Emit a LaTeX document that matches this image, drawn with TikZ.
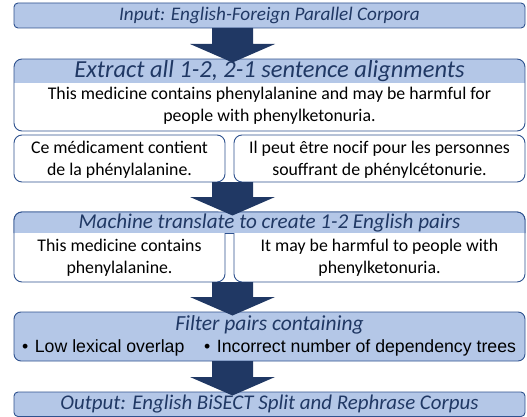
\documentclass[tikz,border=0pt]{standalone}
\usepackage{fontspec}
\setmainfont{Carlito}
\newfontfamily\arialfont{Liberation Sans}
\usetikzlibrary{calc}
\definecolor{headfill}{HTML}{B4C7E7}
\definecolor{bordercol}{HTML}{2F528F}
\definecolor{arrowcol}{HTML}{203864}
\definecolor{titlecol}{HTML}{203864}
\newcommand\blockarrow[2]{%
  \fill[arrowcol] let \p1=(#1.south -| ax), \p2=(#2.north -| ax) in
    (\x1-20.5pt,\y1) -- (\x1+20.5pt,\y1) -- (\x1+20.5pt,\y2+15pt) -- (\x1+42.5pt,\y2+15pt)
    -- (\x1,\y2-3.5pt) -- (\x1-42.5pt,\y2+15pt) -- (\x1-20.5pt,\y2+15pt) -- cycle;}
\begin{document}
\begin{tikzpicture}[x=1pt,y=1pt,
  outline/.style={draw=bordercol, line width=0.9pt},
  boxnode/.style={inner sep=0pt, outer sep=0pt, anchor=north west},
  titletext/.style={font=\fontsize{#1}{22}\selectfont\itshape, text=titlecol, inner sep=0pt},
  titletext/.default=20,
  bodytext/.style={font=\fontsize{17.8}{22}\selectfont, align=center, text=black, inner sep=0pt},
  bullettext/.style={font=\arialfont\fontsize{17.7}{20}\selectfont, text=black, inner sep=0pt}]
\useasboundingbox (0,0) rectangle (527,-417);
\coordinate (ax) at (232.5,0);

% Input
\node[boxnode, outline, fill=headfill, rounded corners=4pt, minimum width=511pt, minimum height=25pt] (in) at (14,-3) {};
\node[titletext=19.2] (intext) at (in.center) {Input: English-Foreign Parallel Corpora};

% Extract
\node[boxnode, fill=white, minimum width=511pt, minimum height=72pt] (ex) at (14,-59) {};
\begin{scope}
  \clip[rounded corners=8pt] (ex.south west) rectangle (ex.north east);
  \fill[headfill] (ex.north west) rectangle ($(ex.north east)+(0,-24)$);
\end{scope}
\draw[outline, rounded corners=8pt] (ex.south west) rectangle (ex.north east);
\node[titletext=24.5] (extitle) at ($(ex.north)+(0,-12.5)$) {Extract all 1-2, 2-1 sentence alignments};
\node[bodytext] (exbody) at ($(ex.north)+(0,-47)$) {This medicine contains phenylalanine and may be harmful for\\people with phenylketonuria.};

% French sentences
\node[boxnode, outline, fill=white, rounded corners=8pt, minimum width=211pt, minimum height=47pt] (frl) at (14,-135) {};
\node[boxnode, outline, fill=white, rounded corners=8pt, minimum width=291pt, minimum height=47pt] (frr) at (234,-135) {};
\node[bodytext] (frltext) at ($(frl.center)+(0,-1)$) {Ce médicament contient\\de la phénylalanine.};
\node[bodytext] (frrtext) at ($(frr.center)+(0,-1)$) {Il peut être nocif pour les personnes\\souffrant de phénylcétonurie.};

% Machine translation
\node[boxnode, outline, fill=white, rounded corners=8pt, minimum width=211pt, minimum height=70pt] (mtl) at (14,-212) {};
\node[boxnode, outline, fill=white, rounded corners=8pt, minimum width=291pt, minimum height=70pt] (mtr) at (234,-212) {};
\coordinate (mthb) at (0,-233);
\begin{scope}
  \clip[rounded corners=8pt] (mtl.south west) rectangle (mtr.north east);
  \fill[headfill] (mtl.north west) rectangle (mtr.east |- mthb);
\end{scope}
\draw[outline] (mtl.west |- mthb) [rounded corners=8pt] -- (mtl.north west) -- (mtr.north east) [sharp corners] -- (mtr.east |- mthb);
\draw[outline] (mtl.east |- mthb) -- (mtr.west |- mthb);
\node[titletext=21.1] (mttitle) at ($(mtl.north west)!0.5!(mtr.north east)+(0,-11)$) {Machine translate to create 1-2 English pairs};
\node[bodytext] (mtltext) at ($(mtl.south)+(0,24)$) {This medicine contains\\phenylalanine.};
\node[bodytext] (mtrtext) at ($(mtr.south)+(0,24)$) {It may be harmful to people with\\phenylketonuria.};

% Filter
\node[boxnode, outline, fill=headfill, rounded corners=7pt, minimum width=511pt, minimum height=49pt] (fi) at (14,-312) {};
\node[titletext=21.5] (fititle) at ($(fi.north)+(0,-13)$) {Filter pairs containing};
\node[bullettext, anchor=west] (fib1) at (22,-348) {\textbullet\hspace{6.5pt}Low lexical overlap};
\node[bullettext, anchor=west] (fib2) at (204,-348) {\textbullet\hspace{6.5pt}Incorrect number of dependency trees};

% Output
\node[boxnode, outline, fill=headfill, rounded corners=4pt, minimum width=511pt, minimum height=24.5pt] (out) at (14,-392) {};
\node[titletext=20.9] (outtext) at (out.center) {Output: English BiSECT Split and Rephrase Corpus};

% Block arrows
\blockarrow{in}{ex}
\blockarrow{frl}{mtl}
\blockarrow{mtl}{fi}
\blockarrow{fi}{out}
\end{tikzpicture}
\end{document}
